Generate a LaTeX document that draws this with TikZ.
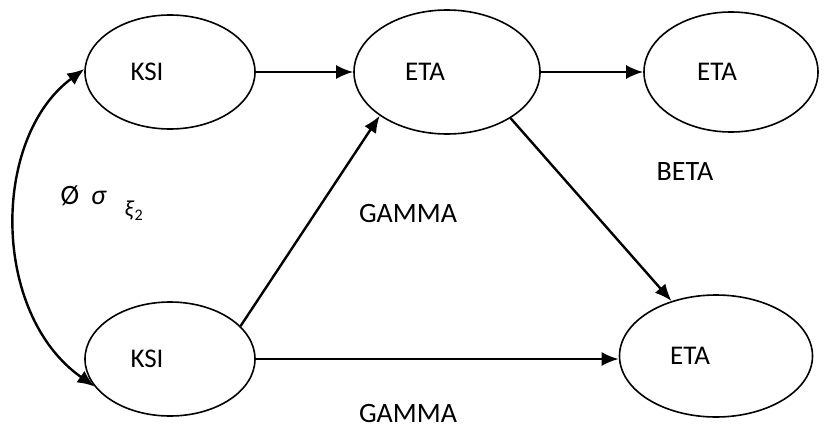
\documentclass[tikz,border=0pt]{standalone}
\usepackage{fontspec}
\setmainfont{Carlito}
\usetikzlibrary{shapes.geometric,arrows.meta}

\tikzset{
    latent/.style={ellipse, draw, line width=1.6pt, inner sep=0pt, font=\fontsize{27}{31}\selectfont},
    path/.style={line width=2.4pt, -{Latex[length=17pt,width=14pt]}},
    coef/.style={font=\fontsize{28}{32}\selectfont}
}

\begin{document}
\begin{tikzpicture}[x=1pt, y=-1pt]
    \useasboundingbox (0,0) rectangle (830,439);
    % Latent variables
    \node[latent, minimum width=170pt, minimum height=114pt] (ksiA) at (170,72) {KSI\hspace*{46pt}};
    \node[latent, minimum width=170pt, minimum height=114pt] (ksiB) at (170,359) {KSI\hspace*{46pt}};
    \node[latent, minimum width=186pt, minimum height=124pt] (etaA) at (447,72) {ETA\hspace*{44pt}};
    \node[latent, minimum width=174pt, minimum height=120pt] (etaB) at (731,72) {ETA\hspace*{28pt}};
    \node[latent, minimum width=193pt, minimum height=122pt] (etaC) at (716,356) {ETA\hspace*{52pt}};
    % Paths
    \draw[path] (ksiA.east) -- (etaA.west);
    \draw[path] (etaA.east) -- (etaB.west);
    \draw[path] (etaA.-36) -- (etaC.129);
    \draw[path] (ksiB.25) -- (etaA.213);
    \draw[path] (ksiB.east) -- (ksiB.east -| etaC.west);
    % Covariance
    \draw[path, {Latex[length=17pt,width=14pt]}-{Latex[length=17pt,width=14pt]}]
        (ksiA.178) .. controls (-9,138) and (-9,314) .. (ksiB.200);
    % Labels
    \node[coef] (phi) at (70,196) {Ø};
    \node[coef] (sigma) at (99,198) {\textit{σ}};
    \node[font=\fontsize{23}{26}\selectfont] (xi) at (134,211) {\textit{ξ}\textsubscript{2}};
    \node[coef] (gammaA) at (408,214) {GAMMA};
    \node[coef] (beta) at (685,172) {BETA};
    \node[coef] (gammaB) at (408,414) {GAMMA};
\end{tikzpicture}
\end{document}
